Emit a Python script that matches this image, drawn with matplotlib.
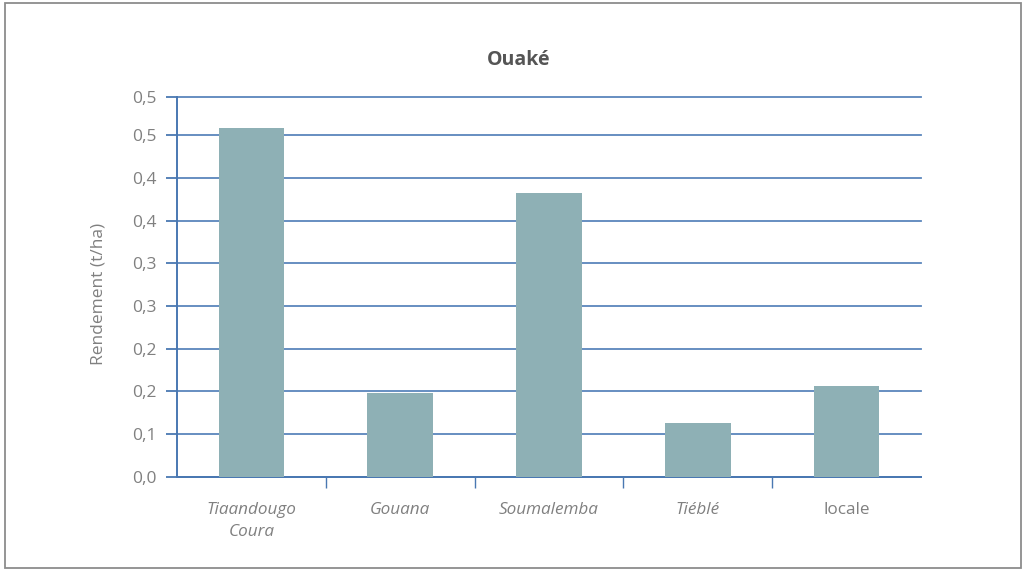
import matplotlib
matplotlib.use("Agg")
import matplotlib.pyplot as plt
from matplotlib.patches import Rectangle
from matplotlib.ticker import FixedLocator, FixedFormatter

# Yield per variety (t/ha)
varieties = ["Tiaandougo\nCoura", "Gouana", "Soumalemba", "Tiéblé", "locale"]
yields = [0.511, 0.122, 0.416, 0.079, 0.132]
italic_names = [True, True, True, True, False]

# Y axis grid positions and their printed labels
y_ticks = [0.0, 0.0625, 0.125, 0.1875, 0.25, 0.3125, 0.375, 0.4375, 0.5, 0.556]
y_labels = ["0,0", "0,1", "0,2", "0,2", "0,3", "0,3", "0,4", "0,4", "0,5", "0,5"]

title = "Ouaké"
y_title = "Rendement (t/ha)"

bar_color = "#8eb0b5"
axis_color = "#4a78b2"
grid_color = "#5a86bc"
text_color = "#808080"
font = ["Open Sans", "DejaVu Sans"]

fig = plt.figure(figsize=(10.24, 5.70), dpi=100)
fig.patch.set_facecolor("white")

# Outer frame
fig.add_artist(Rectangle((0.005, 0.003), 0.992, 0.992, transform=fig.transFigure,
                         fill=False, edgecolor="#8c8c8c", linewidth=1.3))

ax = fig.add_axes([0.1729, 0.1640, 0.7265, 0.6658])
x = list(range(len(varieties)))
ax.bar(x, yields, width=0.44, color=bar_color, zorder=3)

ax.set_xlim(-0.5, len(varieties) - 0.5)
ax.set_ylim(0, y_ticks[-1])

ax.yaxis.set_major_locator(FixedLocator(y_ticks))
ax.yaxis.set_major_formatter(FixedFormatter(y_labels))
ax.grid(axis="y", color=grid_color, linewidth=1.3, zorder=1)
for gl in ax.get_ygridlines():
    gl.set_clip_on(False)
ax.set_axisbelow(True)

ax.set_xticks(x)
ax.set_xticklabels(varieties, family=font, fontsize=12.3, color=text_color,
                   linespacing=1.5)
for lbl, it in zip(ax.get_xticklabels(), italic_names):
    lbl.set_fontstyle("italic" if it else "normal")
ax.xaxis.set_minor_locator(FixedLocator([i + 0.5 for i in range(len(varieties) - 1)]))
ax.tick_params(axis="x", which="major", length=0, pad=18)
ax.tick_params(axis="x", which="minor", length=8, width=1, color=axis_color, direction="out")
ax.tick_params(axis="y", length=8, width=1.3, color=axis_color, direction="out",
               labelsize=12.5, labelcolor=text_color, pad=7)
for lbl in ax.get_yticklabels():
    lbl.set_family(font)

for side in ("top", "right"):
    ax.spines[side].set_visible(False)
for side in ("left", "bottom"):
    ax.spines[side].set_color(axis_color)
    ax.spines[side].set_linewidth(1.4)

ax.set_ylabel(y_title, family=font, fontsize=12.5, color=text_color)
ax.yaxis.set_label_coords(-0.095, 0.48)
fig.text(0.507, 0.895, title, ha="center", va="center", family=font,
         fontsize=14, fontweight="bold", color="#555555")

fig.savefig("out.png", dpi=100, facecolor="white")
